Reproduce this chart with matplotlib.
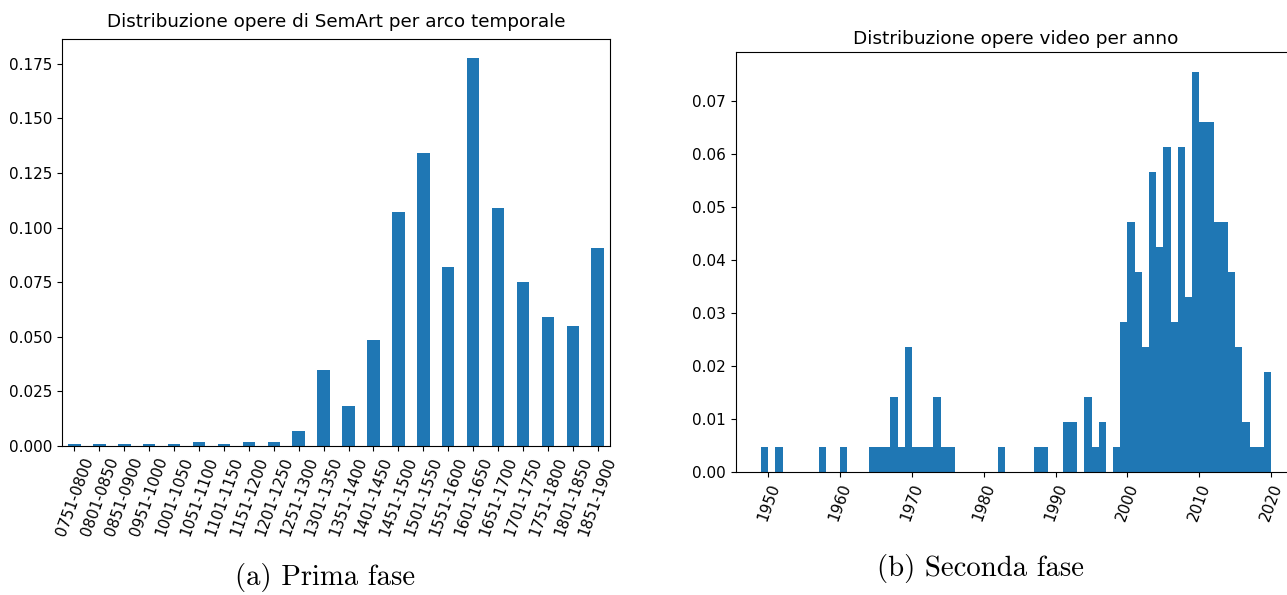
import matplotlib.pyplot as plt
import numpy as np

# prima fase: quota di opere SemArt per arco temporale
archi = ['0751-0800', '0801-0850', '0851-0900', '0951-1000', '1001-1050',
         '1051-1100', '1101-1150', '1151-1200', '1201-1250', '1251-1300',
         '1301-1350', '1351-1400', '1401-1450', '1451-1500', '1501-1550',
         '1551-1600', '1601-1650', '1651-1700', '1701-1750', '1751-1800',
         '1801-1850', '1851-1900']
quote = [0.0006, 0.0006, 0.0006, 0.0006, 0.0006, 0.0015, 0.001, 0.0015,
         0.0015, 0.0066, 0.0349, 0.0182, 0.0484, 0.1069, 0.1342, 0.0817,
         0.1775, 0.1089, 0.0751, 0.0590, 0.0550, 0.0907]

# seconda fase: numero di opere video per anno
anni = [1949, 1951, 1957, 1960, 1964, 1965, 1966, 1967, 1968, 1969, 1970,
        1971, 1972, 1973, 1974, 1975, 1982, 1987, 1988, 1991, 1992, 1994,
        1995, 1996, 1998, 1999, 2000, 2001, 2002, 2003, 2004, 2005, 2006,
        2007, 2008, 2009, 2010, 2011, 2012, 2013, 2014, 2015, 2016, 2017,
        2018, 2019]
conteggi = [1, 1, 1, 1, 1, 1, 1, 3, 1, 5, 1,
            1, 1, 3, 1, 1, 1, 1, 1, 2, 2, 3,
            1, 2, 1, 6, 10, 8, 5, 12, 9, 13, 6,
            13, 7, 16, 14, 14, 10, 10, 8, 5, 2, 1,
            1, 4]
bordi = np.arange(1949, 2021)

fig = plt.figure(figsize=(12.87, 5.95), dpi=100)
ax1 = fig.add_axes([0.0482, 0.2509, 0.4259, 0.6835])
ax2 = fig.add_axes([0.5715, 0.2072, 0.436, 0.7054])

x = np.arange(len(archi))
ax1.bar(x, quote, width=0.5, color='#1f77b4')
ax1.set_xlim(-0.5, len(archi) - 0.5)
ax1.set_ylim(0, max(quote) * 1.05)
ax1.set_xticks(x)
ax1.set_xticklabels(archi, rotation=70, fontsize=11)
ax1.set_yticks(np.arange(0, 0.176, 0.025))
ax1.set_yticklabels([f'{v:.3f}' for v in np.arange(0, 0.176, 0.025)], fontsize=11)
ax1.set_title('Distribuzione opere di SemArt per arco temporale', fontsize=13.2, pad=9)

ax2.hist(anni, bins=bordi, weights=conteggi, density=True, color='#1f77b4')
ax2.set_xticks(range(1950, 2021, 10))
ax2.tick_params(axis='x', labelrotation=70, labelsize=11)
ax2.tick_params(axis='y', labelsize=11)
ax2.set_title('Distribuzione opere video per anno', fontsize=13.3)

fig.text(0.2525, 0.03, '(a) Prima fase', family='cmr10', fontsize=20.7,
         ha='center', va='center')
fig.text(0.7622, 0.045, '(b) Seconda fase', family='cmr10', fontsize=20.7,
         ha='center', va='center')

fig.savefig('out.png', dpi=100)
